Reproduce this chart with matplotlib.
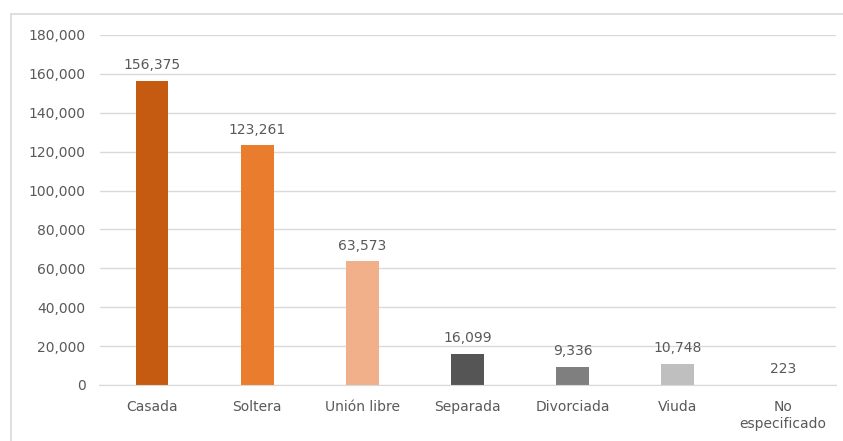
import matplotlib.pyplot as plt
from matplotlib.patches import Rectangle
from matplotlib.ticker import FuncFormatter

categories = ["Casada", "Soltera", "Unión libre", "Separada",
              "Divorciada", "Viuda", "No\nespecificado"]
values = [156375, 123261, 63573, 16099, 9336, 10748, 223]
colors = ["#C55A11", "#E97C2D", "#F2B08A", "#555555",
          "#7F7F7F", "#BFBFBF", "#D9D9D9"]
y_ticks = list(range(0, 180001, 20000))

text_color = "#595959"
grid_color = "#D9D9D9"


def main() -> None:
    plt.rcParams["font.family"] = ["DejaVu Sans"]
    fig = plt.figure(figsize=(8.43, 4.41), dpi=100)
    fig.patches.append(Rectangle((11 / 843, -0.01), 1.0, 1 - 14 / 441 + 0.01,
                                 transform=fig.transFigure, fill=False,
                                 edgecolor="#D9D9D9", linewidth=1.2))
    ax = fig.add_axes([99.5 / 843, 1 - 385 / 441, 736 / 843, 350 / 441])

    x = range(len(categories))
    bars = ax.bar(x, values, width=0.31, color=colors, zorder=3)
    for b, v in zip(bars, values):
        ax.text(b.get_x() + b.get_width() / 2, v + 4500, f"{v:,}",
                ha="center", va="bottom", fontsize=10, color=text_color)

    ax.set_xlim(-0.5, len(categories) - 0.5)
    ax.set_ylim(0, 180000)
    ax.set_yticks(y_ticks)
    ax.yaxis.set_major_formatter(FuncFormatter(lambda v, p: f"{int(v):,}"))
    ax.set_xticks(list(x))
    ax.set_xticklabels(categories, linespacing=1.25)
    ax.tick_params(axis="both", length=0, labelsize=10, colors=text_color)
    ax.tick_params(axis="x", pad=11)
    ax.tick_params(axis="y", pad=10)
    ax.grid(axis="y", color=grid_color, linewidth=1, zorder=0)
    for side in ["top", "right", "left"]:
        ax.spines[side].set_visible(False)
    ax.spines["bottom"].set_color(grid_color)
    ax.spines["bottom"].set_zorder(4)

    fig.savefig("out.png", dpi=100)


if __name__ == "__main__":
    main()
